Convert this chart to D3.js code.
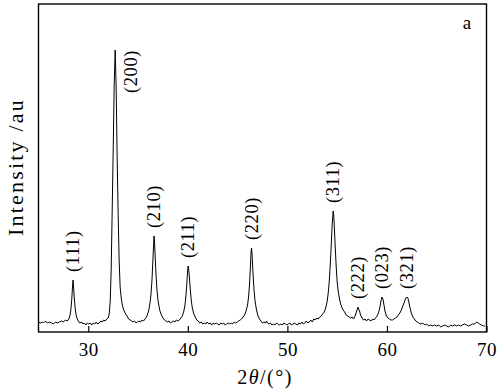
<!DOCTYPE html>
<html>
<head>
<meta charset="utf-8">
<script src="https://cdn.jsdelivr.net/npm/d3@7"></script>
<style>
  body { margin: 0; background: #fff; }
  text { font-family: "Liberation Serif", "Times New Roman", serif; fill: #000; }
</style>
</head>
<body>
<div id="chart"></div>
<script>
// XRD scan: [2theta, intensity (a.u.)]
var scan = [
  [25.0,10],[25.2,9],[25.4,10],[25.5,9],[25.7,11],[25.9,9],[26.1,10],[26.3,9],[26.5,8],[26.7,10],
  [26.9,9],[27.1,10],[27.3,11],[27.5,10],[27.7,12],[27.9,11],[28.05,13],[28.15,16],[28.25,22],[28.35,34],
  [28.42,46],[28.47,52],[28.52,46],[28.6,33],[28.7,22],[28.8,16],[28.9,13],[29.0,11],[29.15,9],[29.3,10],
  [29.45,8],[29.6,9],[29.75,7],[29.9,9],[30.05,8],[30.2,9],[30.35,7],[30.5,9],[30.65,8],[30.8,10],
  [30.95,8],[31.1,9],[31.25,11],[31.4,10],[31.55,12],[31.7,11],[31.85,13],[32.0,14],[32.1,18],[32.2,30],
  [32.3,62],[32.4,120],[32.5,180],[32.6,245],[32.7,282],[32.8,245],[32.9,175],[33.0,118],[33.1,72],[33.2,45],
  [33.3,35],[33.4,28],[33.5,24],[33.6,21],[33.75,18],[33.9,16],[34.05,13],[34.2,12],[34.35,11],[34.5,10],
  [34.65,11],[34.8,9],[34.95,10],[35.1,11],[35.25,10],[35.4,12],[35.55,11],[35.7,13],[35.85,15],[36.0,19],
  [36.1,23],[36.2,29],[36.3,38],[36.4,52],[36.5,74],[36.6,96],[36.65,92],[36.7,80],[36.8,58],[36.9,42],
  [37.0,32],[37.1,26],[37.2,21],[37.35,17],[37.5,14],[37.65,12],[37.8,11],[37.95,10],[38.1,11],[38.25,9],
  [38.4,10],[38.55,11],[38.7,10],[38.85,12],[39.0,11],[39.15,12],[39.3,14],[39.45,16],[39.6,21],[39.7,26],
  [39.8,35],[39.9,48],[39.97,60],[40.03,66],[40.08,63],[40.15,56],[40.25,42],[40.35,31],[40.45,24],[40.6,18],
  [40.75,15],[40.9,12],[41.05,11],[41.2,9],[41.35,10],[41.5,8],[41.65,9],[41.8,8],[41.95,10],[42.1,8],
  [42.25,9],[42.4,7],[42.55,9],[42.7,8],[42.85,9],[43.0,8],[43.15,7],[43.3,9],[43.45,8],[43.6,9],
  [43.75,7],[43.9,8],[44.05,9],[44.2,8],[44.35,9],[44.5,8],[44.65,10],[44.8,9],[44.95,10],[45.1,11],
  [45.25,12],[45.4,13],[45.55,15],[45.7,17],[45.85,21],[46.0,27],[46.1,35],[46.2,48],[46.28,64],[46.35,80],
  [46.4,84],[46.45,78],[46.55,58],[46.65,42],[46.75,31],[46.9,22],[47.05,16],[47.2,13],[47.35,11],[47.5,9],
  [47.65,10],[47.8,9],[47.9,11],[48.0,9],[48.15,8],[48.3,9],[48.45,7],[48.6,8],[48.75,7],[48.9,9],
  [49.05,8],[49.2,7],[49.35,8],[49.5,7],[49.65,9],[49.8,8],[49.95,7],[50.1,8],[50.25,9],[50.4,7],
  [50.55,8],[50.7,9],[50.85,8],[51.0,7],[51.15,9],[51.3,8],[51.45,10],[51.6,8],[51.75,9],[51.9,11],
  [52.05,9],[52.2,10],[52.35,12],[52.5,10],[52.65,13],[52.8,12],[52.95,14],[53.1,13],[53.25,15],[53.4,16],
  [53.55,18],[53.7,20],[53.85,24],[54.0,31],[54.1,39],[54.2,50],[54.3,66],[54.4,86],[54.5,108],[54.6,121],
  [54.65,117],[54.7,108],[54.8,86],[54.9,66],[55.0,50],[55.1,41],[55.2,35],[55.3,30],[55.45,25],[55.6,22],
  [55.75,20],[55.9,17],[56.05,16],[56.2,15],[56.35,14],[56.5,15],[56.65,13],[56.8,16],[56.9,19],[57.0,22],
  [57.1,25],[57.15,23],[57.25,21],[57.35,17],[57.5,14],[57.65,12],[57.8,13],[57.95,11],[58.1,13],[58.25,12],
  [58.4,11],[58.55,13],[58.7,12],[58.85,14],[59.0,16],[59.15,19],[59.3,25],[59.4,31],[59.5,35],[59.6,33],
  [59.7,27],[59.8,21],[59.95,16],[60.1,14],[60.25,13],[60.4,12],[60.55,12],[60.7,13],[60.85,14],[61.0,15],
  [61.15,17],[61.3,19],[61.45,22],[61.6,26],[61.75,30],[61.9,34],[62.0,35],[62.1,34],[62.2,30],[62.3,25],
  [62.45,19],[62.6,15],[62.75,13],[62.9,11],[63.05,10],[63.2,9],[63.4,8],[63.6,9],[63.8,7],[64.0,8],
  [64.2,6],[64.4,7],[64.6,6],[64.8,7],[65.0,6],[65.2,7],[65.4,5],[65.6,6],[65.8,7],[66.0,6],
  [66.2,5],[66.4,7],[66.6,6],[66.8,7],[67.0,6],[67.2,7],[67.4,6],[67.6,7],[67.8,8],[68.0,7],
  [68.2,6],[68.4,7],[68.6,8],[68.8,8],[69.0,10],[69.15,9],[69.3,8],[69.5,7],[69.7,6],[69.85,6]
];

// peak indexing
var peakLabels = ["(111)", "(200)", "(210)", "(211)", "(220)", "(311)", "(222)", "(023)", "(321)"];
var peakAngles = [28.47, 32.7, 36.6, 40.03, 46.4, 54.6, 57.1, 59.5, 62.0];
var peakHeights = [52, 282, 96, 66, 84, 121, 25, 35, 35];

var xTicks = [30, 40, 50, 60, 70];
var xDomain = [25, 70];
var yDomain = [0, 328];

var width = 500, height = 392;
var margin = {top: 4, right: 13.5, bottom: 60, left: 38.5};

var svg = d3.select("#chart")
  .append("svg")
  .attr("width", width)
  .attr("height", height);

var xScale = d3.scaleLinear().domain(xDomain).range([margin.left, width - margin.right]);
var yScale = d3.scaleLinear().domain(yDomain).range([height - margin.bottom, margin.top]);

// bottom axis, ticks pointing in
var x_axis = d3.axisBottom(xScale)
  .tickValues(xTicks)
  .tickSizeInner(-6)
  .tickSizeOuter(0)
  .tickPadding(11);

var gx = svg.append("g")
  .attr("transform", "translate(0," + (height - margin.bottom) + ")")
  .call(x_axis);
gx.select(".domain").remove();
gx.selectAll("line").attr("stroke", "#000").attr("stroke-width", 1.2);
gx.selectAll("text")
  .style("font-family", '"Liberation Serif", serif')
  .style("font-size", "19px")
  .style("letter-spacing", "0.5px")
  .attr("fill", "#000");

// the scan
var line = d3.line()
  .x((d) => xScale(d[0]))
  .y((d) => yScale(d[1]));

svg.append("path")
  .datum(scan)
  .attr("d", line)
  .attr("fill", "none")
  .attr("stroke", "#000")
  .attr("stroke-width", 1)
  .attr("stroke-linejoin", "round");

// frame
svg.append("rect")
  .attr("x", xScale(xDomain[0]))
  .attr("y", yScale(yDomain[1]))
  .attr("width", xScale(xDomain[1]) - xScale(xDomain[0]))
  .attr("height", yScale(yDomain[0]) - yScale(yDomain[1]))
  .attr("fill", "none")
  .attr("stroke", "#000")
  .attr("stroke-width", 1.4);

// peak labels, rotated; the tallest one sits beside its peak
var maxH = d3.max(peakHeights);
svg.selectAll(".peakLabel")
  .data(peakLabels)
  .join("text")
  .attr("class", "peakLabel")
  .attr("transform", function(d, i) {
    var px = xScale(peakAngles[i]);
    var py = yScale(peakHeights[i]);
    if (peakHeights[i] == maxH) return "translate(" + (px + 16) + "," + py + ") rotate(-90)";
    return "translate(" + px + "," + (py - 8) + ") rotate(-90)";
  })
  .attr("text-anchor", (d, i) => peakHeights[i] == maxH ? "end" : "start")
  .attr("dominant-baseline", "central")
  .style("font-size", "18.5px")
  .style("letter-spacing", "0.6px")
  .text((d) => d);

// panel letter
svg.append("text")
  .attr("x", 467)
  .attr("y", 29)
  .attr("text-anchor", "middle")
  .style("font-size", "19px")
  .text("a");

// axis titles
var xt = svg.append("text")
  .attr("x", 265)
  .attr("y", 384)
  .attr("text-anchor", "middle")
  .style("font-size", "20px")
  .style("letter-spacing", "1.5px");
xt.append("tspan").text("2");
xt.append("tspan").style("font-style", "italic").text("θ");
xt.append("tspan").text("/(°)");

svg.append("text")
  .attr("transform", "translate(15,167) rotate(-90)")
  .attr("text-anchor", "middle")
  .attr("dominant-baseline", "central")
  .style("font-size", "22px")
  .style("letter-spacing", "2.2px")
  .text("Intensity /au");
</script>
</body>
</html>
